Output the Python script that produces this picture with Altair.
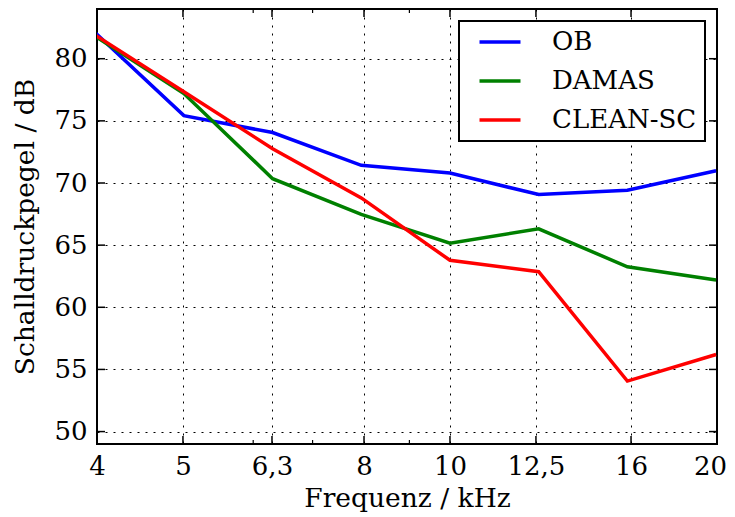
import altair as alt
import pandas as pd

# Third-octave band centre frequencies (kHz) at which values were plotted
freqs = [3.981, 5.012, 6.310, 7.943, 10.0, 12.589, 15.849, 19.953]
ob = [82.1, 75.42, 74.06, 71.42, 70.8, 69.07, 69.41, 70.99]
damas = [81.8, 77.2, 70.35, 67.47, 65.16, 66.31, 63.26, 62.2]
clean_sc = [81.9, 77.35, 72.76, 68.8, 63.78, 62.86, 54.06, 56.2]

series_names = ["OB", "DAMAS", "CLEAN-SC"]
series_colors = ["#0000ff", "#008000", "#ff0000"]

x_ticks = [4, 5, 6.3, 8, 10, 12.5, 16, 20]
x_minor = [6, 7, 9]
y_ticks = [50, 55, 60, 65, 70, 75, 80]

W, H = 620, 435
FONT = "DejaVu Serif"

rows = []
for name, vals in zip(series_names, [ob, damas, clean_sc]):
    for f, v in zip(freqs, vals):
        rows.append({"f": f, "v": v, "s": name})
df = pd.DataFrame(rows)

xscale = alt.Scale(type="log", domain=[4, 20], nice=False)
yscale = alt.Scale(domain=[49, 84], nice=False, zero=False)

xaxis = alt.Axis(values=x_ticks, title="Frequenz / kHz",
                 labelExpr="replace(toString(datum.value), '.', ',')",
                 ticks=False, tickSize=0, domain=False, grid=True,
                 labelFlush=False, labelOverlap=False, labelBound=False,
                 labelOffset={"condition": {"test": "datum.value >= 20", "value": -7},
                              "value": 0},
                 labelPadding=9, titlePadding=6)
yaxis = alt.Axis(values=y_ticks, title="Schalldruckpegel / dB",
                 ticks=False, tickSize=0, domain=False, grid=True,
                 labelFlush=False, labelOverlap=False,
                 labelPadding=10, titlePadding=14)

lines = alt.Chart(df).mark_line(strokeWidth=3.5, clip=True).encode(
    x=alt.X("f:Q", scale=xscale, axis=xaxis),
    y=alt.Y("v:Q", scale=yscale, axis=yaxis),
    color=alt.Color("s:N", scale=alt.Scale(domain=series_names, range=series_colors),
                    sort=series_names,
                    legend=alt.Legend(title=None, orient="top-right", offset=12)),
)

xt = pd.DataFrame({"t": x_ticks})
xm = pd.DataFrame({"t": x_minor})
yt = pd.DataFrame({"t": y_ticks})

def xrule(d, y0, y1, w):
    return alt.Chart(d).mark_rule(color="black", strokeWidth=w).encode(
        x=alt.X("t:Q", scale=xscale, axis=xaxis),
        y=alt.value(y0), y2=alt.value(y1))

def yrule(d, x0, x1, w):
    return alt.Chart(d).mark_rule(color="black", strokeWidth=w).encode(
        y=alt.Y("t:Q", scale=yscale, axis=yaxis),
        x=alt.value(x0), x2=alt.value(x1))

tick_layers = [
    xrule(xt, H, H - 8, 1.5), xrule(xt, 0, 8, 1.5),
    xrule(xm, H, H - 4, 1.2), xrule(xm, 0, 4, 1.2),
    yrule(yt, 0, 8, 1.5), yrule(yt, W, W - 8, 1.5),
]

chart = alt.layer(lines, *tick_layers).properties(
    width=W, height=H,
    autosize=alt.AutoSizeParams(type="none"),
    padding={"left": 89, "top": 1, "right": 10, "bottom": 72},
).configure_view(
    stroke="black", strokeWidth=2
).configure_axis(
    labelFont=FONT, labelFontSize=26, labelColor="black",
    titleFont=FONT, titleFontSize=26.5, titleColor="black", titleFontWeight="normal",
    gridColor="black", gridDash=[2, 6], gridWidth=1, gridOpacity=1,
).configure_legend(
    labelFont=FONT, labelFontSize=26, labelColor="black", labelOffset=39,
    symbolType="M-2,0L2,0", symbolSize=420, symbolStrokeWidth=3.5, symbolOffset=20,
    strokeColor="black", strokeWidth=2, fillColor="white", padding=8,
    rowPadding=13, cornerRadius=0,
)

chart.save("out.html", embed_options={"renderer": "svg", "actions": False})
